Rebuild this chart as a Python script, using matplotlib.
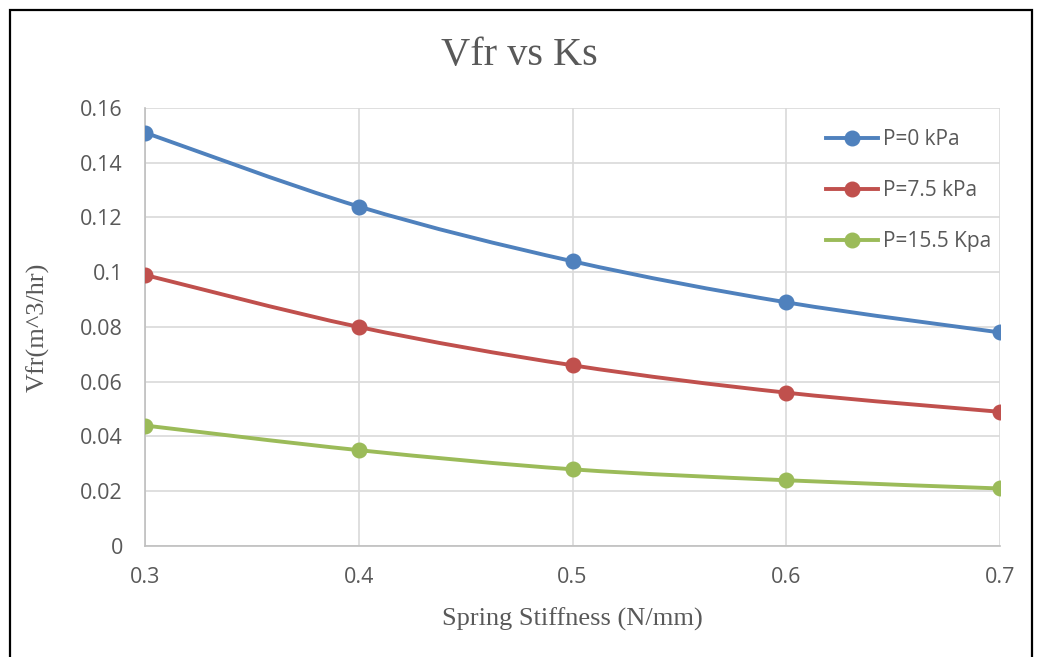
import matplotlib.pyplot as plt
from matplotlib.path import Path
from matplotlib.patches import PathPatch, Rectangle
from matplotlib.lines import Line2D

ks = [0.3, 0.4, 0.5, 0.6, 0.7]
vfr_p0 = [0.151, 0.124, 0.104, 0.089, 0.078]
vfr_p75 = [0.099, 0.080, 0.066, 0.056, 0.049]
vfr_p155 = [0.044, 0.035, 0.028, 0.024, 0.021]
labels = ['P=0 kPa', 'P=7.5 kPa', 'P=15.5 Kpa']
colors = ['#4f81bd', '#c0504d', '#9bbb59']
yticks = [0, 0.02, 0.04, 0.06, 0.08, 0.1, 0.12, 0.14, 0.16]
ytick_labels = ['0', '0.02', '0.04', '0.06', '0.08', '0.1', '0.12', '0.14', '0.16']

SERIF = 'Liberation Serif'
SANS = 'Open Sans'
GRAY = '#595959'


def smooth_path(x, y):
    # excel-like smoothed line as cubic bezier segments through the points
    pts = list(zip(x, y))
    n = len(pts)
    verts = [pts[0]]
    codes = [Path.MOVETO]
    for i in range(n - 1):
        p0 = pts[max(i - 1, 0)]
        p1 = pts[i]
        p2 = pts[i + 1]
        p3 = pts[min(i + 2, n - 1)]
        c1 = (p1[0] + (p2[0] - p0[0]) / 6, p1[1] + (p2[1] - p0[1]) / 6)
        c2 = (p2[0] - (p3[0] - p1[0]) / 6, p2[1] - (p3[1] - p1[1]) / 6)
        verts += [c1, c2, p2]
        codes += [Path.CURVE4] * 3
    return Path(verts, codes)


fig = plt.figure(figsize=(10.38, 6.57), dpi=100)
ax = fig.add_axes([0.1397, 0.169, 0.8237, 0.6667])

handles = []
for vals, c, lab in zip([vfr_p0, vfr_p75, vfr_p155], colors, labels):
    ax.add_patch(PathPatch(smooth_path(ks, vals), fill=False, edgecolor=c, lw=2.8, zorder=3))
    ax.plot(ks, vals, ls='none', marker='o', ms=10.5, color=c, zorder=4)
    handles.append(Line2D([], [], color=c, lw=2.8, marker='o', ms=10.5, label=lab))

ax.set_xlim(0.3, 0.7)
ax.set_ylim(0, 0.16)
ax.set_xticks(ks)
ax.set_xticklabels([f'{k:.1f}' for k in ks])
ax.set_yticks(yticks)
ax.set_yticklabels(ytick_labels)
ax.grid(True, color='#d9d9d9', lw=1.2, zorder=0)
ax.set_axisbelow(True)
for s in ['top', 'right']:
    ax.spines[s].set_visible(False)
for s in ['left', 'bottom']:
    ax.spines[s].set_color('#bfbfbf')
    ax.spines[s].set_linewidth(1.2)
ax.tick_params(length=0, colors=GRAY, labelsize=15.5)
ax.tick_params(axis='x', pad=15)
ax.tick_params(axis='y', pad=16)
for t in ax.get_xticklabels() + ax.get_yticklabels():
    t.set_fontfamily(SANS)

ax.set_xlabel('Spring Stiffness (N/mm)', fontfamily=SERIF, fontsize=19, color=GRAY, labelpad=14)
ax.set_ylabel('Vfr(m^3/hr)', fontfamily=SERIF, fontsize=19, color=GRAY, labelpad=22)
fig.text(0.5, 0.915, 'Vfr vs Ks', fontfamily=SERIF, fontsize=29, color=GRAY, ha='center', va='center')

leg = ax.legend(handles=handles, loc='upper right', bbox_to_anchor=(1.012, 0.995), frameon=False,
                handlelength=2.5, labelspacing=1.45, handletextpad=0.25,
                prop={'family': SANS, 'size': 15})
for t in leg.get_texts():
    t.set_color(GRAY)

fig.patches.append(Rectangle((10 / 1038, -0.05), 1022 / 1038, 1.05 - 10 / 657,
                             transform=fig.transFigure, fill=False, edgecolor='black', lw=1.6))

fig.savefig('out.png', dpi=100)
